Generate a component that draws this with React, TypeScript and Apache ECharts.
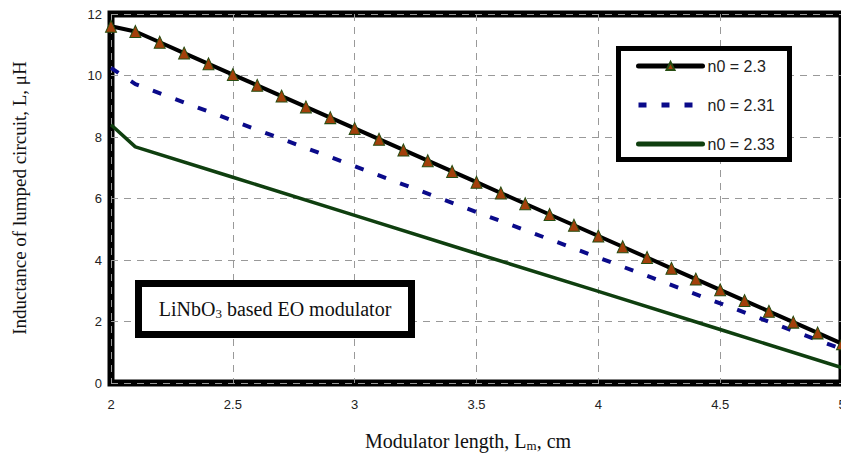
import React, { useEffect, useRef } from "react";
import * as echarts from "echarts";

const seriesNames = ["n0 = 2.3", "n0 = 2.31", "n0 = 2.33"];

const xN23 = [2.0, 2.1, 2.2, 2.3, 2.4, 2.5, 2.6, 2.7, 2.8, 2.9, 3.0, 3.1, 3.2, 3.3, 3.4, 3.5, 3.6, 3.7, 3.8, 3.9, 4.0, 4.1, 4.2, 4.3, 4.4, 4.5, 4.6, 4.7, 4.8, 4.9, 5.0];
const yN23 = [11.6, 11.43, 11.08, 10.73, 10.38, 10.03, 9.68, 9.33, 8.98, 8.63, 8.28, 7.93, 7.58, 7.23, 6.88, 6.53, 6.18, 5.83, 5.48, 5.13, 4.78, 4.43, 4.08, 3.73, 3.38, 3.03, 2.68, 2.33, 1.98, 1.63, 1.28];

const xN231 = [2.0, 2.1, 2.5, 3.0, 3.5, 4.0, 4.5, 5.0];
const yN231 = [10.25, 9.72, 8.53, 7.05, 5.56, 4.08, 2.59, 1.1];

const xN233 = [2.0, 2.1, 2.5, 3.0, 3.5, 4.0, 4.5, 5.0];
const yN233 = [8.4, 7.68, 6.69, 5.45, 4.21, 2.98, 1.74, 0.5];

const xTicks = { min: 2, max: 5, interval: 0.5 };
const yTicks = { min: 0, max: 12, interval: 2 };

const pairs = (xs: number[], ys: number[]) => xs.map((x, i) => [x, ys[i]]);

export default function App() {
  const ref = useRef<HTMLDivElement>(null);
  useEffect(() => {
    if (!ref.current) return;
    const chart = echarts.init(ref.current, undefined, { renderer: "svg" });
    const serif = "Liberation Serif, Times New Roman, serif";
    const sans = "Liberation Sans, Arial, sans-serif";
    chart.setOption({
      animation: false,
      backgroundColor: "#fff",
      grid: {
        left: 111,
        right: -1,
        top: 14,
        bottom: 77,
        outerBoundsMode: "none",
        containLabel: false,
        show: true,
        borderColor: "#000",
        borderWidth: 7,
        backgroundColor: "transparent",
      },
      xAxis: {
        type: "value",
        min: xTicks.min,
        max: xTicks.max,
        interval: xTicks.interval,
        axisLine: { show: false },
        axisTick: { show: false },
        axisLabel: { color: "#222", fontSize: 13, fontFamily: sans, margin: 15 },
        splitLine: { show: true, lineStyle: { color: "#999", type: [7, 6], width: 1 } },
      },
      yAxis: {
        type: "value",
        min: yTicks.min,
        max: yTicks.max,
        interval: yTicks.interval,
        axisLine: { show: false },
        axisTick: { show: false },
        axisLabel: { color: "#222", fontSize: 13, fontFamily: sans, margin: 9 },
        splitLine: { show: true, lineStyle: { color: "#999", type: [7, 6], width: 1 } },
      },
      legend: {
        orient: "vertical",
        left: 636,
        top: 58,
        padding: 0,
        itemWidth: 64,
        itemHeight: 10,
        itemGap: 23,
        z: 10,
        textStyle: { color: "#222", fontSize: 16, fontFamily: sans },
        data: [
          { name: seriesNames[0], lineStyle: { width: 5, cap: "round" } },
          { name: seriesNames[1], itemStyle: { opacity: 0 }, lineStyle: { width: 5, type: [8, 15] } },
          { name: seriesNames[2], itemStyle: { opacity: 0 }, lineStyle: { width: 5, cap: "round" } },
        ],
      },
      graphic: [
        {
          type: "rect",
          z: 5,
          shape: { x: 618.5, y: 48.5, width: 171, height: 111 },
          style: { fill: "#fff", stroke: "#000", lineWidth: 5 },
        },
        {
          type: "rect",
          z: 5,
          shape: { x: 138.5, y: 283.5, width: 273, height: 51 },
          style: { fill: "#fff", stroke: "#000", lineWidth: 7 },
        },
        {
          type: "text",
          z: 6,
          x: 275,
          y: 309,
          style: {
            text: "{a|LiNbO}{s|3}{a| based EO modulator}",
            align: "center",
            verticalAlign: "middle",
            fill: "#111",
            rich: {
              a: { fontSize: 20, fontFamily: serif, fill: "#111" },
              s: { fontSize: 13, fontFamily: serif, fill: "#111", padding: [9, 0, 0, 0] },
            },
          },
        },
        {
          type: "text",
          z: 6,
          x: 19,
          y: 198,
          rotation: Math.PI / 2,
          style: {
            text: "Inductance of lumped circuit, L, μH",
            align: "center",
            verticalAlign: "middle",
            fill: "#111",
            fontSize: 19,
            fontFamily: serif,
          },
        },
        {
          type: "text",
          z: 6,
          x: 468,
          y: 441,
          style: {
            text: "{a|Modulator length, L}{s|m}{a|, cm}",
            align: "center",
            verticalAlign: "middle",
            fill: "#111",
            rich: {
              a: { fontSize: 20, fontFamily: serif, fill: "#111" },
              s: { fontSize: 13, fontFamily: serif, fill: "#111", padding: [9, 0, 0, 0] },
            },
          },
        },
      ],
      series: [
        {
          name: seriesNames[0],
          type: "line",
          data: pairs(xN23, yN23),
          symbol: "triangle",
          symbolSize: [11, 12],
          clip: false,
          z: 4,
          lineStyle: { color: "#000", width: 4 },
          itemStyle: { color: "#A3400B", borderColor: "#274d12", borderWidth: 1 },
        },
        {
          name: seriesNames[1],
          type: "line",
          data: pairs(xN231, yN231),
          symbol: "none",
          z: 3,
          lineStyle: { color: "#0a0a8a", width: 4, type: [9, 15] },
          itemStyle: { color: "#0a0a8a" },
        },
        {
          name: seriesNames[2],
          type: "line",
          data: pairs(xN233, yN233),
          symbol: "none",
          z: 3,
          lineStyle: { color: "#0f3f0f", width: 3.5 },
          itemStyle: { color: "#0f3f0f" },
        },
      ],
    });
    return () => chart.dispose();
  }, []);
  return (
    <div
      ref={ref}
      style={{ position: "fixed", left: 0, top: 0, width: 841, height: 460 }}
    />
  );
}
